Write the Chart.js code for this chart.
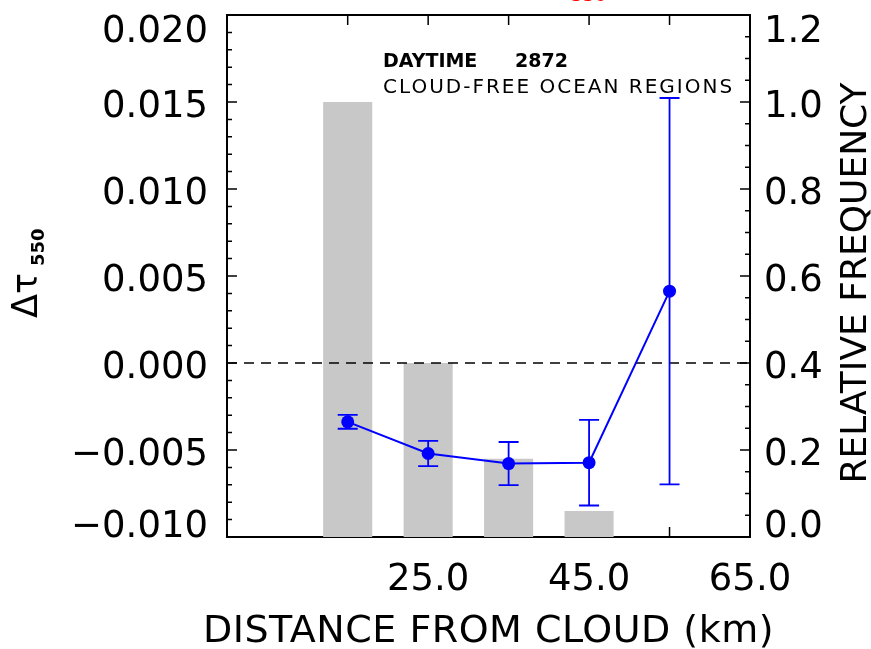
<!DOCTYPE html>
<html>
<head>
<meta charset="utf-8">
<script src="https://cdn.jsdelivr.net/npm/chart.js@4.4.1/dist/chart.umd.min.js"></script>
<style>
  html, body { margin: 0; padding: 0; background: #fff; }
  #wrap { width: 871px; height: 649px; position: relative; }
</style>
</head>
<body>
<div id="wrap"><canvas id="chart"></canvas></div>
<script>
// bin centres, km from the cloud edge
const distances = [15, 25, 35, 45, 55];
// mean change of 550 nm optical depth per bin and its error
const deltaTau = [-0.00338, -0.00520, -0.00578, -0.00573, 0.00413];
const deltaTauErr = [0.00040, 0.00073, 0.00124, 0.00246, 0.01110];
// relative frequency of the samples in each bin
const relFreq = [1.0, 0.40, 0.18, 0.06, 0.0];

const xTickMarks = [15, 25, 35, 45, 55];
const xTickLabels = [25, 45, 65];
const leftTicks = [-0.010, -0.005, 0.000, 0.005, 0.010, 0.015, 0.020];
const rightTicks = [0.0, 0.2, 0.4, 0.6, 0.8, 1.0, 1.2];
const LEFT_MINOR = 0.001;
const RIGHT_MINOR = 0.05;

const FONT = '"DejaVu Sans", sans-serif';

function minorValues(min, max, step) {
    const out = [];
    const n = Math.round((max - min) / step);
    for (let i = 0; i <= n; i++) out.push(min + i * step);
    return out;
}

// frame and inward tick marks, under the bars like the original plot
const framePlugin = {
    id: 'frame',
    beforeDatasetsDraw(chart) {
        const { ctx, chartArea: a, scales } = chart;
        ctx.save();
        ctx.strokeStyle = '#000';
        ctx.lineWidth = 2;
        ctx.strokeRect(a.left, a.top, a.right - a.left, a.bottom - a.top);

        ctx.lineWidth = 1.5;
        ctx.beginPath();
        xTickMarks.forEach(v => {
            const px = scales.x.getPixelForValue(v);
            ctx.moveTo(px, a.bottom); ctx.lineTo(px, a.bottom - 10);
            ctx.moveTo(px, a.top); ctx.lineTo(px, a.top + 10);
        });
        minorValues(-0.010, 0.020, LEFT_MINOR).forEach((v, i) => {
            const py = scales.y.getPixelForValue(v);
            const len = i % 5 === 0 ? 10 : 5;
            ctx.moveTo(a.left, py); ctx.lineTo(a.left + len, py);
        });
        minorValues(0, 1.2, RIGHT_MINOR).forEach((v, i) => {
            const py = scales.y1.getPixelForValue(v);
            const len = i % 4 === 0 ? 10 : 5;
            ctx.moveTo(a.right, py); ctx.lineTo(a.right - len, py);
        });
        ctx.stroke();
        ctx.restore();
    }
};

// vertical error bars with caps
const errorBarPlugin = {
    id: 'errorBars',
    afterDatasetsDraw(chart) {
        const { ctx, scales } = chart;
        ctx.save();
        ctx.strokeStyle = '#0000ff';
        ctx.lineWidth = 1.8;
        ctx.beginPath();
        distances.forEach((d, i) => {
            const px = scales.x.getPixelForValue(d);
            const hi = scales.y.getPixelForValue(deltaTau[i] + deltaTauErr[i]);
            const lo = scales.y.getPixelForValue(deltaTau[i] - deltaTauErr[i]);
            ctx.moveTo(px, hi); ctx.lineTo(px, lo);
            ctx.moveTo(px - 10, hi); ctx.lineTo(px + 10, hi);
            ctx.moveTo(px - 10, lo); ctx.lineTo(px + 10, lo);
        });
        ctx.stroke();
        ctx.restore();
    }
};

// y tick labels (end labels kept inside the frame), axis titles, notes
const textPlugin = {
    id: 'texts',
    afterDraw(chart) {
        const { ctx, chartArea: a, scales } = chart;
        const cap = 27;
        const place = py => Math.min(Math.max(py + 1 + cap / 2, a.top + cap), a.bottom);
        ctx.save();
        ctx.fillStyle = '#000';
        ctx.font = '37px ' + FONT;
        ctx.textBaseline = 'alphabetic';

        ctx.textAlign = 'right';
        leftTicks.forEach(v => {
            const s = (v < 0 ? '\u2212' : '') + Math.abs(v).toFixed(3);
            ctx.fillText(s, a.left - 19, place(scales.y.getPixelForValue(v)));
        });
        ctx.textAlign = 'left';
        rightTicks.forEach(v => {
            ctx.fillText(v.toFixed(1), a.right + 14, place(scales.y1.getPixelForValue(v)));
        });

        // bottom title
        ctx.textAlign = 'center';
        ctx.font = '38px ' + FONT;
        ctx.letterSpacing = '0.5px';
        ctx.fillText('DISTANCE FROM CLOUD (km)', (a.left + a.right) / 2, 642);

        // right title
        ctx.save();
        ctx.translate(866, (a.top + a.bottom) / 2 + 7);
        ctx.rotate(-Math.PI / 2);
        ctx.font = '36px ' + FONT;
        ctx.letterSpacing = '0px';
        ctx.fillText('RELATIVE FREQUENCY', 0, 0);
        ctx.restore();
        ctx.letterSpacing = '0px';

        // left title: delta tau with subscript 550
        ctx.save();
        ctx.textAlign = 'left';
        ctx.translate(37, (a.top + a.bottom) / 2 + 42);
        ctx.rotate(-Math.PI / 2);
        ctx.font = '35px ' + FONT;
        ctx.fillText('\u0394\u03c4', 0, 0);
        const w = ctx.measureText('\u0394\u03c4').width;
        ctx.font = 'bold 18px ' + FONT;
        ctx.fillText('550', w + 7, 7);
        ctx.restore();

        // notes inside the frame
        ctx.textAlign = 'left';
        ctx.font = 'bold 19px ' + FONT;
        ctx.fillText('DAYTIME', a.left + 156, a.top + 52);
        ctx.fillText('2872', a.left + 288, a.top + 52);
        ctx.font = '20px ' + FONT;
        ctx.letterSpacing = '2px';
        ctx.fillText('CLOUD-FREE OCEAN REGIONS', a.left + 156, a.top + 78);
        ctx.letterSpacing = '0px';

        // subscript of the red title, cropped at the top edge
        ctx.fillStyle = '#ff0000';
        ctx.font = 'bold 17px ' + FONT;
        ctx.fillText('550', 571, 1);
        ctx.restore();
    }
};

const noGrid = { display: false, drawTicks: false };
const noBorder = { display: false };

new Chart(document.getElementById('chart'), {
    type: 'bar',
    data: {
        datasets: [
            {
                type: 'line',
                data: distances.map((d, i) => ({ x: d, y: deltaTau[i] })),
                yAxisID: 'y',
                borderColor: '#0000ff',
                backgroundColor: '#0000ff',
                borderWidth: 2,
                pointRadius: 6.5,
                pointBorderWidth: 0,
                tension: 0,
                order: 1
            },
            {
                type: 'line',
                data: [{ x: 0, y: 0 }, { x: 65, y: 0 }],
                yAxisID: 'y',
                borderColor: '#000',
                borderWidth: 1.5,
                borderDash: [10, 7],
                pointRadius: 0,
                order: 2
            },
            {
                type: 'bar',
                data: distances.map((d, i) => ({ x: d, y: relFreq[i] })),
                yAxisID: 'y1',
                backgroundColor: '#c8c8c8',
                borderWidth: 0,
                barPercentage: 0.61,
                categoryPercentage: 1,
                order: 3
            }
        ]
    },
    options: {
        responsive: true,
        maintainAspectRatio: false,
        devicePixelRatio: 1,
        animation: false,
        layout: { padding: { top: 15, left: 0, right: 0, bottom: 0 } },
        plugins: {
            legend: { display: false },
            tooltip: { enabled: false }
        },
        scales: {
            x: {
                type: 'linear',
                min: 0,
                max: 65,
                offset: false,
                grid: noGrid,
                border: noBorder,
                afterBuildTicks: s => { s.ticks = xTickLabels.map(v => ({ value: v })); },
                afterFit: s => { s.height = 112; },
                ticks: {
                    autoSkip: false,
                    maxRotation: 0,
                    padding: 25,
                    color: '#000',
                    font: { family: FONT, size: 37, lineHeight: 1 },
                    callback: v => Number(v).toFixed(1)
                }
            },
            y: {
                type: 'linear',
                position: 'left',
                min: -0.010,
                max: 0.020,
                grid: noGrid,
                border: noBorder,
                ticks: { display: false, stepSize: 0.005 },
                afterFit: s => { s.width = 227; }
            },
            y1: {
                type: 'linear',
                position: 'right',
                min: 0,
                max: 1.2,
                grid: noGrid,
                border: noBorder,
                ticks: { display: false, stepSize: 0.2 },
                afterFit: s => { s.width = 121; }
            }
        }
    },
    plugins: [framePlugin, errorBarPlugin, textPlugin]
});
</script>
</body>
</html>
